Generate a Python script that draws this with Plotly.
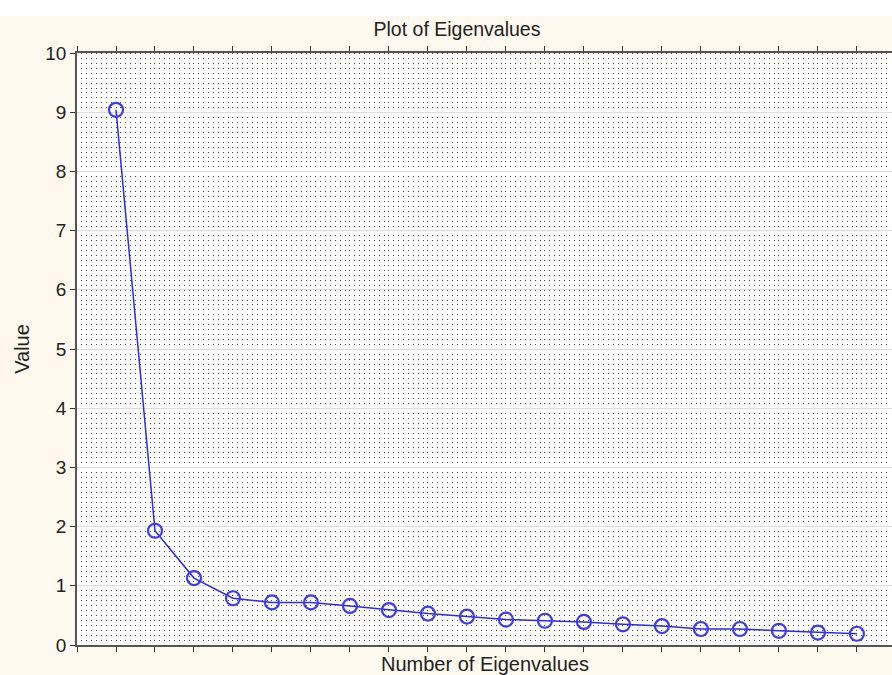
import plotly.graph_objects as go

# Data
eigen_numbers = list(range(1, 21))
eigen_values = [9.04, 1.93, 1.13, 0.79, 0.72, 0.72, 0.66, 0.59, 0.53, 0.48,
                0.43, 0.41, 0.39, 0.35, 0.32, 0.27, 0.27, 0.24, 0.21, 0.19]
y_ticks = list(range(0, 11))

title_text = "Plot of Eigenvalues"
x_title = "Number of Eigenvalues"
y_title = "Value"

FONT = "Liberation Sans, Arial, sans-serif"
CREAM = "#fef9ee"
DOT = "1px,3.93px"

W, H = 892, 675
L, T, B = 77, 53, 30
PH = H - T - B  # plot height in px

fig = go.Figure()
fig.add_trace(go.Scatter(
    x=eigen_numbers, y=eigen_values, mode="lines+markers",
    line=dict(color="#2a2af0", width=1.5),
    marker=dict(symbol="circle-open", size=14, color="#3b3bf5",
                line=dict(width=2.2, color="#3b3bf5")),
    showlegend=False, hoverinfo="x+y",
))

fig.update_layout(
    width=W, height=H,
    margin=dict(l=L, r=0, t=T, b=B, pad=0),
    paper_bgcolor=CREAM, plot_bgcolor="white",
    font=dict(family=FONT, size=19, color="#222"),
    title=dict(text=title_text, xref="container", yref="container",
               x=457 / W, y=1 - 29 / H, xanchor="center", yanchor="middle",
               font=dict(size=19.5, color="#222")),
    shapes=[dict(type="rect", xref="paper", yref="paper",
                 x0=-L / (W - L), x1=1, y0=(PH + T - 16) / PH, y1=(PH + T) / PH,
                 fillcolor="white", line=dict(width=0), layer="below")],
    annotations=[dict(text=x_title, xref="paper", yref="paper",
                      x=0.5, y=-19 / PH, xanchor="center", yanchor="middle",
                      showarrow=False, font=dict(size=20, color="#222"))],
)

fig.update_xaxes(
    range=[0, 20.9], dtick=1, tick0=0,
    showticklabels=False, ticks="outside", ticklen=5, tickcolor="#333",
    showline=True, linecolor="#555", linewidth=1.5, mirror="ticks",
    showgrid=True, gridcolor="#444", gridwidth=1, griddash=DOT,
    minor=dict(dtick=1 / 8, tick0=0, showgrid=True, gridcolor="#444",
               gridwidth=1, griddash=DOT, ticks=""),
    zeroline=False,
)
fig.update_yaxes(
    range=[0, 10], tickvals=y_ticks, ticks="outside", ticklen=5, tickcolor="#333",
    showline=True, linecolor="#555", linewidth=1.5, mirror=False,
    showgrid=True, gridcolor="#dcdcdc", gridwidth=1,
    zeroline=False, tickfont=dict(size=19, color="#222"),
    title=dict(text=y_title, standoff=10, font=dict(size=20, color="#222")),
)

fig.write_html(
    "out.html",
    config={"displayModeBar": False},
    post_script="document.body.style.margin='0';document.body.style.overflow='hidden';",
)
